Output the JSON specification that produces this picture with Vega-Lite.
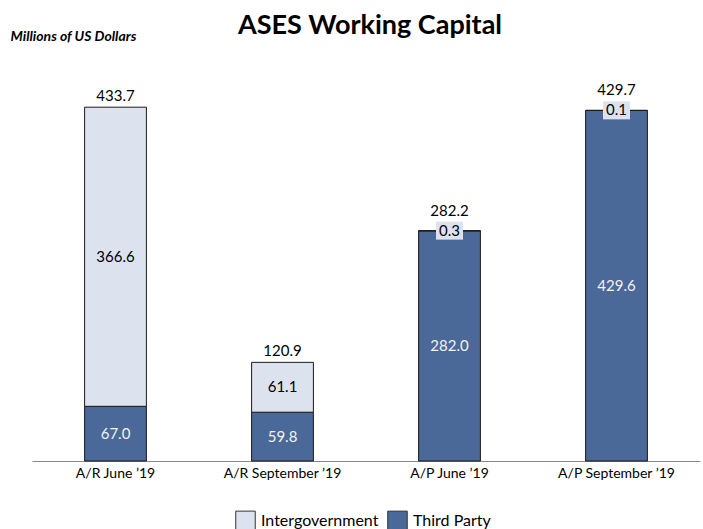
{
  "$schema": "https://vega.github.io/schema/vega-lite/v6.json",
  "width": 668,
  "height": 408,
  "autosize": {"type": "none"},
  "padding": {"left": 32, "top": 53, "right": 3, "bottom": 68},
  "config": {"font": "Lato", "view": {"stroke": null}},
  "title": {"text": "ASES Working Capital", "fontSize": 27, "fontWeight": "bold", "anchor": "middle", "offset": -11, "dx": 4, "color": "#000000"},
  "datasets": {
    "segments": [
      {"category": "A/R June ’19", "series": "Third Party", "value": 67.0},
      {"category": "A/R June ’19", "series": "Intergovernment", "value": 366.6},
      {"category": "A/R September ’19", "series": "Third Party", "value": 59.8},
      {"category": "A/R September ’19", "series": "Intergovernment", "value": 61.1},
      {"category": "A/P June ’19", "series": "Third Party", "value": 282.0},
      {"category": "A/P June ’19", "series": "Intergovernment", "value": 0.3},
      {"category": "A/P September ’19", "series": "Third Party", "value": 429.6},
      {"category": "A/P September ’19", "series": "Intergovernment", "value": 0.1}
    ],
    "totals": [
      {"category": "A/R June ’19", "total": 433.7},
      {"category": "A/R September ’19", "total": 120.9},
      {"category": "A/P June ’19", "total": 282.2},
      {"category": "A/P September ’19", "total": 429.7}
    ]
  },
  "layer": [
    {
      "data": {"name": "segments"},
      "transform": [
        {"stack": "value", "groupby": ["category"], "sort": [{"field": "series", "order": "descending"}], "as": ["y0", "y1"]},
        {"calculate": "(datum.y0 + datum.y1) / 2", "as": "mid"}
      ],
      "layer": [
        {
          "mark": {"type": "bar", "stroke": "#1a1a1a", "strokeWidth": 1},
          "encoding": {
            "x": {"field": "category", "type": "nominal", "sort": null,
                  "scale": {"paddingInner": 0.63, "paddingOuter": 0.315},
                  "axis": {"title": null, "ticks": false, "domainColor": "#888888", "domainWidth": 1, "labelColor": "#000000", "labelFontSize": 14, "labelPadding": 5, "labelAngle": 0}},
            "y": {"field": "y0", "type": "quantitative", "scale": {"domain": [0, 500]},
                  "axis": {"title": "Millions of US Dollars", "labels": false, "ticks": false, "domain": false, "grid": false,
                           "titleAngle": 0, "titleX": -22, "titleY": -13, "titleAlign": "left", "titleBaseline": "alphabetic",
                           "titleFontSize": 14, "titleFontStyle": "italic", "titleFontWeight": "bold", "titleColor": "#000000"}},
            "y2": {"field": "y1"},
            "color": {"field": "series", "type": "nominal",
                      "scale": {"domain": ["Intergovernment", "Third Party"], "range": ["#DCE3EE", "#4A6898"]},
                      "legend": {"title": null, "orient": "none", "legendX": 203, "legendY": 457, "direction": "horizontal",
                                 "symbolType": "square", "symbolSize": 380, "symbolStrokeColor": "#333333", "symbolStrokeWidth": 1,
                                 "labelFontSize": 16, "labelColor": "#000000", "columnPadding": 6, "labelOffset": 5}}
          }
        },
        {
          "transform": [{"filter": "datum.value >= 1"}],
          "mark": {"type": "text", "fontSize": 15, "baseline": "middle"},
          "encoding": {
            "x": {"field": "category", "type": "nominal", "sort": null},
            "y": {"field": "mid", "type": "quantitative"},
            "text": {"field": "value", "type": "quantitative", "format": ".1f"},
            "color": {"condition": {"test": "datum.series === 'Third Party'", "value": "#F2F2F2"}, "value": "#000000"}
          }
        },
        {
          "transform": [{"filter": "datum.value < 1"}],
          "mark": {"type": "point", "shape": "M-1.5,-1H1.5V1H-1.5Z", "size": 324, "filled": true, "fill": "#DCE3EE", "strokeWidth": 0, "opacity": 1},
          "encoding": {
            "x": {"field": "category", "type": "nominal", "sort": null},
            "y": {"field": "y1", "type": "quantitative"}
          }
        },
        {
          "transform": [{"filter": "datum.value < 1"}],
          "mark": {"type": "text", "fontSize": 15, "baseline": "middle", "color": "#000000"},
          "encoding": {
            "x": {"field": "category", "type": "nominal", "sort": null},
            "y": {"field": "y1", "type": "quantitative"},
            "text": {"field": "value", "type": "quantitative", "format": ".1f"}
          }
        }
      ]
    },
    {
      "data": {"name": "totals"},
      "transform": [{"filter": {"field": "category", "oneOf": ["A/R June ’19", "A/R September ’19"]}}],
      "mark": {"type": "text", "fontSize": 15, "baseline": "middle", "dy": -11, "color": "#000000"},
      "encoding": {
        "x": {"field": "category", "type": "nominal", "sort": null},
        "y": {"field": "total", "type": "quantitative"},
        "text": {"field": "total", "type": "quantitative", "format": ".1f"}
      }
    },
    {
      "data": {"name": "totals"},
      "transform": [{"filter": {"field": "category", "oneOf": ["A/P June ’19", "A/P September ’19"]}}],
      "mark": {"type": "text", "fontSize": 15, "baseline": "middle", "dy": -20, "color": "#000000"},
      "encoding": {
        "x": {"field": "category", "type": "nominal", "sort": null},
        "y": {"field": "total", "type": "quantitative"},
        "text": {"field": "total", "type": "quantitative", "format": ".1f"}
      }
    }
  ]
}
